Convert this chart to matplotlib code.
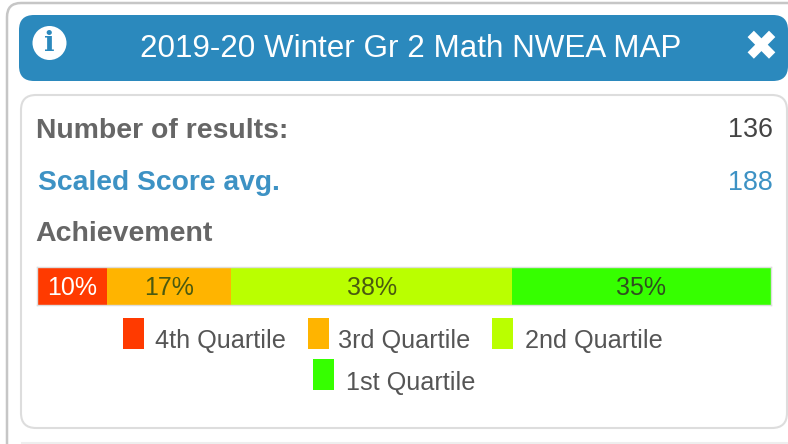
import matplotlib.pyplot as plt
from matplotlib.patches import Circle, FancyBboxPatch, Rectangle

plt.rcParams["font.family"] = ["Liberation Sans", "DejaVu Sans"]

TITLE = "2019-20 Winter Gr 2 Math NWEA MAP"
QUARTILES = ["4th Quartile", "3rd Quartile", "2nd Quartile", "1st Quartile"]
COUNTS = [13, 23, 52, 48]
PERCENT_LABELS = ["10%", "17%", "38%", "35%"]
COLORS = ["#ff3a00", "#ffb400", "#baff00", "#36ff00"]
LABEL_COLORS = ["white", "#4a5a10", "#4a5a10", "#2f4f1f"]
N_RESULTS = "136"
SCORE_AVG = "188"

W, H = 788, 444
BLUE = "#2b89bd"
LINK = "#3d92c4"
GREY = "#666666"


def rounded(ax, x0, y0, x1, y1, r, **kw):
    ax.add_patch(FancyBboxPatch((x0 + r, y0 + r), x1 - x0 - 2 * r, y1 - y0 - 2 * r,
                                boxstyle=f"round,pad={r},rounding_size={r}", **kw))


fig = plt.figure(figsize=(W / 100, H / 100), dpi=100)
ax = fig.add_axes([0, 0, 1, 1])
ax.set_xlim(0, W)
ax.set_ylim(H, 0)
ax.axis("off")

# outer card, runs off the right and bottom of the crop
rounded(ax, 7, 3, 830, 500, 14, fc="white", ec="#c6c6c6", lw=1.8)
# header
rounded(ax, 19, 15, 788, 81, 15, fc=BLUE, ec="none")
ax.text(411, 57, TITLE, color="white", fontsize=22.6, ha="center", va="baseline")
ax.add_patch(Circle((49.5, 43), 17, fc="white", ec="none"))
ax.text(49.5, 43.5, "i", color=BLUE, fontsize=20, fontweight="bold", family="DejaVu Serif",
        ha="center", va="center")
ax.text(761, 48, "\u2716", color="white", fontsize=30, family="DejaVu Sans", ha="center", va="center")

# body panel
rounded(ax, 21, 95, 787, 428, 15, fc="white", ec="#dddddd", lw=1.5)
ax.plot([22, 788], [442.5, 442.5], color="#eeeeee", lw=1.5)

ax.text(36, 138, "Number of results:", color=GREY, fontsize=20.4, fontweight="bold", va="baseline")
ax.text(773, 137, N_RESULTS, color="#444444", fontsize=19.4, ha="right", va="baseline")
ax.text(38, 190, "Scaled Score avg.", color=LINK, fontsize=20.3, fontweight="bold", va="baseline")
ax.text(773, 190, SCORE_AVG, color=LINK, fontsize=19.4, ha="right", va="baseline")
ax.text(35, 241, "Achievement", color=GREY, fontsize=20.5, fontweight="bold", va="baseline")

# stacked bar, in its own axes
bar_ax = fig.add_axes([37 / W, 1 - 304.5 / H, 734 / W, 37.5 / H])
left = 0
for count, color, pct, lab_color in zip(COUNTS, COLORS, PERCENT_LABELS, LABEL_COLORS):
    bar_ax.barh(0, count, left=left, height=1, color=color, linewidth=0)
    bar_ax.text(left + count / 2, -0.06, pct, color=lab_color, fontsize=18, ha="center", va="center")
    left += count
bar_ax.set_xlim(0, sum(COUNTS))
bar_ax.set_ylim(-0.5, 0.5)
bar_ax.set_xticks([])
bar_ax.set_yticks([])
for spine in bar_ax.spines.values():
    spine.set_color("#dddddd")
    spine.set_linewidth(1.0)

# legend
LEGEND_SWATCH_X = [123, 308, 492, 313]
LEGEND_TEXT_X = [155, 338, 525, 346]
LEGEND_TOP = [318, 318, 318, 359]
LEGEND_BASE = [348, 348, 348, 390]
for i, name in enumerate(QUARTILES):
    ax.add_patch(Rectangle((LEGEND_SWATCH_X[i], LEGEND_TOP[i]), 21, 31, fc=COLORS[i], ec="none"))
    ax.text(LEGEND_TEXT_X[i], LEGEND_BASE[i], name, color="#555555", fontsize=18.2, va="baseline")

fig.savefig("out.png", dpi=100)
